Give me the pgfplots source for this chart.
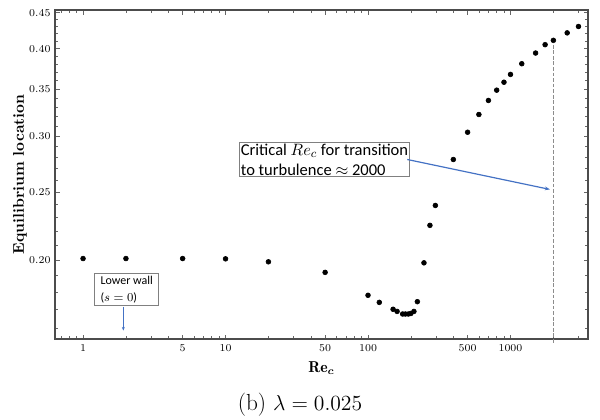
\documentclass[border=0pt]{standalone}
\usepackage{pgfplots}
\pgfplotsset{compat=1.18}
\usepackage{amsmath}
\usepackage{fontspec}
\usetikzlibrary{arrows.meta}
\newfontfamily\calibri{Carlito}
\definecolor{arrowblue}{HTML}{4472C4}
\begin{document}
\begin{tikzpicture}
\useasboundingbox (-36.7pt,-54pt) rectangle (363.3pt,226pt);
\begin{axis}[
  at={(0,0)}, anchor=south west, scale only axis,
  width=355.3pt, height=219.3pt,
  xmode=log, ymode=log,
  xmin=0.636, xmax=3499, ymin=0.1544, ymax=0.4539,
  xtick={1,5,10,50,100,500,1000},
  xticklabels={1,5,10,50,100,500,1000},
  minor xtick={0.7,0.8,0.9,2,3,4,6,7,8,9,20,30,40,60,70,80,90,200,300,400,600,700,800,900,2000,3000},
  ytick={0.20,0.25,0.30,0.35,0.40,0.45},
  yticklabels={0.20,0.25,0.30,0.35,0.40,0.45},
  minor ytick={0.16,0.17,0.18,0.19,0.21,0.22,0.23,0.24,0.26,0.27,0.28,0.29,0.31,0.32,0.33,0.34,0.36,0.37,0.38,0.39,0.41,0.42,0.43,0.44},
  tick align=inside, major tick length=3pt, minor tick length=1.8pt,
  tick style={black!60, line width=0.5pt},
  axis line style={black!70, line width=0.8pt},
  ticklabel style={font=\fontsize{7}{8}\selectfont},
  yticklabel style={xshift=0.5pt},
  xlabel={$\mathbf{Re}_{\boldsymbol{c}}$},
  xlabel style={at={(axis description cs:0.5,-0.088)}, anchor=center, font=\fontsize{10.5}{12}\selectfont},
  ylabel={\textbf{Equilibrium location}},
  ylabel style={at={(axis description cs:-0.0656,0.5)}, anchor=center, font=\fontsize{10.3}{12}\selectfont},
  clip=false,
]
\addplot[only marks, mark=*, mark size=1.6pt, black] coordinates {
(1,0.201) (2,0.201) (5,0.201) (10,0.2008) (20,0.1989) (50,0.1921)
(100,0.1782) (120,0.1741) (150,0.1702) (160,0.1690) (175,0.1676)
(183,0.1676) (192,0.1676) (200,0.1679) (210,0.1690) (222,0.1745)
(247,0.1982) (272,0.2241) (297,0.2392) (397,0.2781) (500,0.3041)
(600,0.3223) (700,0.3375) (800,0.3491) (900,0.3583) (1000,0.3676)
(1200,0.3807) (1500,0.3943) (1750,0.4052) (2000,0.4110) (2500,0.4212)
(3000,0.4301)
};
\draw[black!45, line width=0.6pt, dash pattern=on 2.5pt off 1.2pt] (axis cs:2000,0.405) -- (axis cs:2000,0.1524);
\node[draw=gray, line width=0.6pt, inner sep=1pt, align=left, fill=white,
  font=\calibri\fontsize{11}{13}\selectfont] at (axis cs:49.5,0.278)
  {Critical $Re_c$ for transition\\to turbulence $\approx$ 2000};
\draw[-{Stealth[length=3.5pt,width=2.5pt]}, arrowblue, line width=0.8pt]
  (axis cs:188.7,0.2781) -- (axis cs:1893,0.2521);
\node[draw=gray, line width=0.6pt, inner xsep=4pt, inner ysep=2pt, align=left, fill=white,
  font=\calibri\fontsize{8}{11}\selectfont] at (axis cs:2.026,0.1816)
  {Lower wall\\($s=0$)};
\draw[-{Stealth[length=2.5pt,width=2pt]}, arrowblue, line width=0.5pt]
  (axis cs:1.918,0.1716) -- (axis cs:1.918,0.1587);
\end{axis}
\node[font=\fontsize{15.5}{18}\selectfont] at (163.3pt,-44pt) {(b) $\lambda = 0.025$};
\end{tikzpicture}
\end{document}
